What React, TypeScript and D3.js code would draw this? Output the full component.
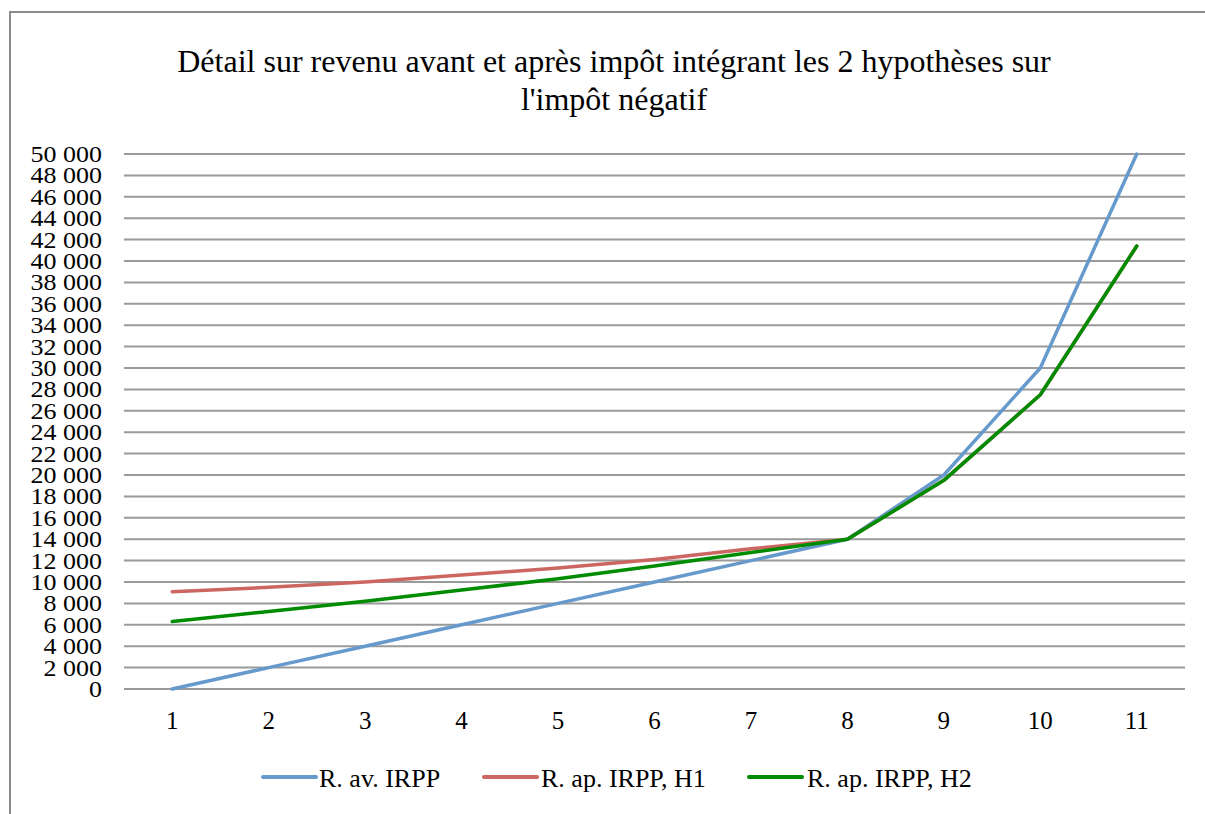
import React from "react";
import * as d3 from "d3";

const categories = ["1", "2", "3", "4", "5", "6", "7", "8", "9", "10", "11"];
const avIRPP = [0, 2000, 4000, 6000, 8000, 10000, 12000, 14000, 20000, 30000, 50000];
const apIRPP_H1 = [9100, 9500, 10000, 10650, 11300, 12100, 13100, 14000, 19500, 27500, 41400];
const apIRPP_H2 = [6300, 7250, 8200, 9250, 10300, 11500, 12750, 14000, 19500, 27500, 41400];
const yTicks = d3.range(0, 50001, 2000);
const titleLines = [
  "Détail sur revenu avant et après impôt intégrant les 2 hypothèses sur",
  "l'impôt négatif",
];

const series = [
  { name: "R. av. IRPP", values: avIRPP, color: "#6699CC" },
  { name: "R. ap. IRPP, H1", values: apIRPP_H1, color: "#CC6661" },
  { name: "R. ap. IRPP, H2", values: apIRPP_H2, color: "#008C00" },
];

const W = 1205;
const H = 814;
const plot = { left: 124, right: 1185, top: 154, bottom: 689 };
const font = '"Liberation Serif", "Times New Roman", Times, "DejaVu Serif", serif';

const fmt = (v: number) => d3.format(",")(v).replace(/,/g, " ");

export default function App() {
  const x = d3
    .scaleBand<string>()
    .domain(categories)
    .range([plot.left, plot.right]);
  const y = d3.scaleLinear().domain([0, 50000]).range([plot.bottom, plot.top]);
  const cx = (i: number) => (x(categories[i]) as number) + x.bandwidth() / 2;
  const line = d3
    .line<number>()
    .x((_, i) => cx(i))
    .y((d) => y(d));

  const legendItems = [
    { mx: 263, tx: 319 },
    { mx: 484, tx: 541 },
    { mx: 749, tx: 807 },
  ];

  return (
    <svg
      width={W}
      height={H}
      style={{ position: "absolute", left: 0, top: 0, background: "#fff" }}
    >
      <rect x={0} y={0} width={W} height={H} fill="#fff" />
      <rect
        x={10}
        y={12}
        width={1400}
        height={1000}
        fill="#fff"
        stroke="#8c8c8c"
        strokeWidth={2}
      />
      {titleLines.map((t, i) => (
        <text
          key={i}
          x={614}
          y={72 + i * 38}
          textAnchor="middle"
          style={{ fontFamily: font, fontSize: 32 }}
          fill="#000"
        >
          {t}
        </text>
      ))}
      {yTicks.map((t) => (
        <line
          key={t}
          x1={plot.left}
          x2={plot.right}
          y1={y(t)}
          y2={y(t)}
          stroke="#9a9a9a"
          strokeWidth={2}
        />
      ))}
      {yTicks.map((t) => (
        <g key={t} transform={`translate(102, ${y(t) + 8}) scale(1.13, 1)`}>
          <text
            x={0}
            y={0}
            textAnchor="end"
            style={{ fontFamily: font, fontSize: 23 }}
            fill="#000"
          >
            {fmt(t)}
          </text>
        </g>
      ))}
      {categories.map((c, i) => (
        <text
          key={c}
          x={cx(i)}
          y={729}
          textAnchor="middle"
          style={{ fontFamily: font, fontSize: 25 }}
          fill="#000"
        >
          {c}
        </text>
      ))}
      {series.map((s) => (
        <path
          key={s.name}
          d={line(s.values) || ""}
          fill="none"
          stroke={s.color}
          strokeWidth={3.5}
          strokeLinejoin="round"
          strokeLinecap="round"
        />
      ))}
      {series.map((s, i) => (
        <g key={s.name}>
          <line
            x1={legendItems[i].mx}
            x2={legendItems[i].mx + 53}
            y1={777}
            y2={777}
            stroke={s.color}
            strokeWidth={4}
            strokeLinecap="round"
          />
          <text
            x={legendItems[i].tx}
            y={787}
            style={{ fontFamily: font, fontSize: 26 }}
            fill="#000"
          >
            {s.name}
          </text>
        </g>
      ))}
    </svg>
  );
}
